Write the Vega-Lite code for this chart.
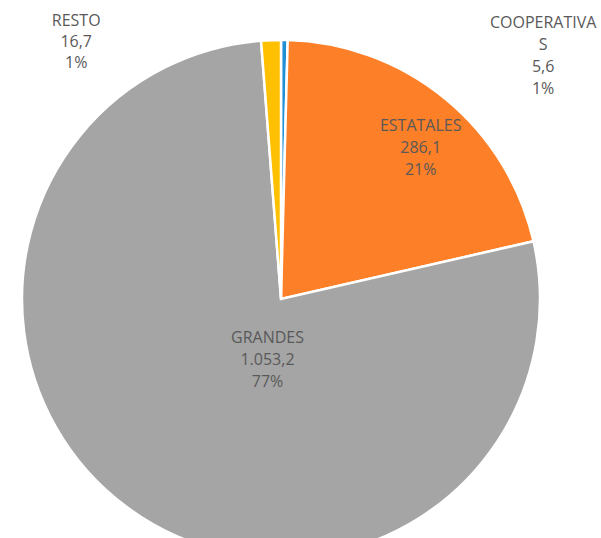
{
  "$schema": "https://vega.github.io/schema/vega-lite/v6.json",
  "width": 562,
  "height": 598,
  "autosize": {"type": "none"},
  "padding": {"left": 0, "top": 0, "right": 39, "bottom": 0},
  "background": "white",
  "view": {"stroke": null},
  "data": {
    "values": [
      {"categoria": "COOPERATIVAS", "orden": 1, "valor": 5.6, "etiqueta": "COOPERATIVA\nS\n5,6\n1%"},
      {"categoria": "ESTATALES", "orden": 2, "valor": 286.1, "etiqueta": "ESTATALES\n286,1\n21%"},
      {"categoria": "GRANDES", "orden": 3, "valor": 1053.2, "etiqueta": "GRANDES\n1.053,2\n77%"},
      {"categoria": "RESTO", "orden": 4, "valor": 16.7, "etiqueta": "RESTO\n16,7\n1%"}
    ]
  },
  "transform": [
    {"stack": "valor", "groupby": [], "sort": [{"field": "orden", "order": "ascending"}], "as": ["ini", "fin"]},
    {"calculate": "(datum.ini + datum.fin) / 2", "as": "medio"}
  ],
  "layer": [
    {
      "mark": {"type": "arc", "outerRadius": 259, "stroke": "white", "strokeWidth": 2.5},
      "encoding": {
        "theta": {"field": "fin", "type": "quantitative", "stack": null, "scale": {"zero": true, "nice": false}},
        "theta2": {"field": "ini"},
        "color": {
          "field": "categoria",
          "type": "nominal",
          "scale": {
            "domain": ["COOPERATIVAS", "ESTATALES", "GRANDES", "RESTO"],
            "range": ["#1F8FD6", "#FD7F28", "#A5A5A5", "#FFC000"]
          },
          "legend": null
        }
      }
    },
    {
      "transform": [{"filter": "datum.categoria == 'ESTATALES'"}],
      "mark": {"type": "text", "radius": 200, "dx": 13, "dy": -18, "font": "Open Sans", "fontSize": 16, "lineHeight": 22, "lineBreak": "\n", "color": "#595959", "align": "center", "baseline": "middle"},
      "encoding": {
        "theta": {"field": "medio", "type": "quantitative", "stack": null},
        "text": {"field": "etiqueta"}
      }
    },
    {
      "transform": [{"filter": "datum.categoria == 'GRANDES'"}],
      "mark": {"type": "text", "radius": 70, "dx": 28, "dy": -17, "font": "Open Sans", "fontSize": 16, "lineHeight": 22, "lineBreak": "\n", "color": "#595959", "align": "center", "baseline": "middle"},
      "encoding": {
        "theta": {"field": "medio", "type": "quantitative", "stack": null},
        "text": {"field": "etiqueta"}
      }
    },
    {
      "transform": [{"filter": "datum.categoria == 'RESTO'"}],
      "mark": {"type": "text", "radius": 254, "dx": -195, "dy": -24, "font": "Open Sans", "fontSize": 16, "lineHeight": 21, "lineBreak": "\n", "color": "#595959", "align": "center", "baseline": "middle"},
      "encoding": {
        "theta": {"field": "medio", "type": "quantitative", "stack": null},
        "text": {"field": "etiqueta"}
      }
    },
    {
      "transform": [{"filter": "datum.categoria == 'COOPERATIVAS'"}],
      "mark": {"type": "text", "radius": 242, "dx": 259, "dy": -34, "font": "Open Sans", "fontSize": 16, "lineHeight": 22, "lineBreak": "\n", "color": "#595959", "align": "center", "baseline": "middle"},
      "encoding": {
        "theta": {"field": "medio", "type": "quantitative", "stack": null},
        "text": {"field": "etiqueta"}
      }
    }
  ]
}
